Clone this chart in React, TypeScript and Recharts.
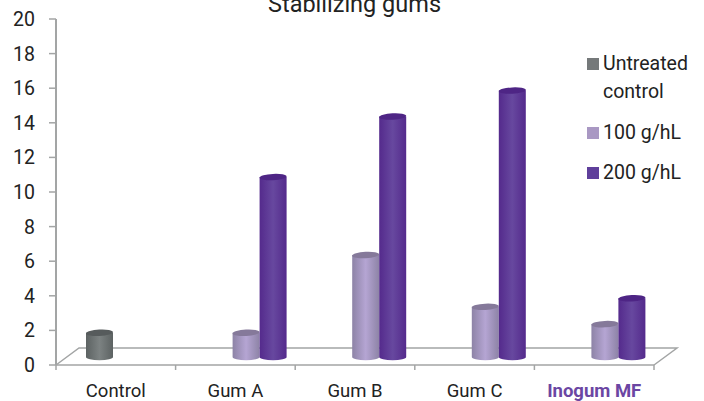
import React from 'react';
import { ComposedChart, Bar, XAxis, YAxis, Legend, Customized, usePlotArea } from 'recharts';

const categories = ['Control', 'Gum A', 'Gum B', 'Gum C', 'Inogum MF'];
const untreated = [1.4, null, null, null, null];
const g100 = [null, 1.4, 5.9, 2.9, 1.9];
const g200 = [null, 10.4, 13.9, 15.4, 3.4];
const yTicks = [0, 2, 4, 6, 8, 10, 12, 14, 16, 18, 20];

const data = categories.map((name, i) => ({
  name,
  untreated: untreated[i],
  g100: g100[i],
  g200: g200[i],
}));

const FONT = 'Roboto, sans-serif';
const AXIS_COLOR = '#a3a5a5';
const TEXT_COLOR = '#222222';

// 3D look: bars sit on the floor, a bit right and up of the axis
const DX = 11;
const DY = -8;
const FLOOR_X = 23;
const FLOOR_Y = 17;

const Floor = () => {
  const area = usePlotArea();
  if (!area) return null;
  const { x, y, width, height } = area;
  const bottom = y + height;
  const right = x + width;
  const step = width / categories.length;
  return (
    <g fill="none" stroke={AXIS_COLOR} strokeWidth={1.5}>
      <path d={`M${x} ${bottom} L${x + FLOOR_X} ${bottom - FLOOR_Y} L${right + FLOOR_X} ${bottom - FLOOR_Y} L${right} ${bottom}`} />
      {[0, 1, 2, 3, 4, 5].map((i) => (
        <line key={i} x1={x + i * step} x2={x + i * step} y1={bottom} y2={bottom + 5} />
      ))}
    </g>
  );
};

const Cylinder = (props: any) => {
  const { x, y, width, height, grad, topColor } = props;
  if (!height || height <= 0) return null;
  const rx = width / 2;
  const ry = 3.2;
  const left = x + DX;
  const top = y + DY;
  const bottom = top + height;
  return (
    <g>
      <path
        d={`M${left} ${top} L${left} ${bottom} A${rx} ${ry} 0 0 0 ${left + width} ${bottom} L${left + width} ${top} Z`}
        fill={`url(#${grad})`}
      />
      <ellipse
        cx={left + rx}
        cy={top}
        rx={rx}
        ry={ry}
        fill={topColor}
        transform={`rotate(-3 ${left + rx} ${top})`}
      />
    </g>
  );
};

const XTick = (props: any) => {
  const { x, y, payload } = props;
  const isOurs = payload.value === 'Inogum MF';
  return (
    <text
      x={x}
      y={y + 24}
      textAnchor="middle"
      fontFamily={FONT}
      fontSize={18.5}
      fontWeight={isOurs ? 700 : 400}
      fill={isOurs ? '#6b46a3' : TEXT_COLOR}
    >
      {payload.value}
    </text>
  );
};

const LegendBox = () => {
  const rows = [
    { lines: ['Untreated', 'control'], color: '#75797a', top: 50 },
    { lines: ['100 g/hL'], color: '#a998c3', top: 119 },
    { lines: ['200 g/hL'], color: '#5f3f9b', top: 159 },
  ];
  return (
    <div style={{ position: 'absolute', left: 587, top: 0, width: 110, height: 190, fontFamily: FONT, fontSize: 19.5, color: TEXT_COLOR }}>
      {rows.map((r) => (
        <div key={r.lines[0]} style={{ position: 'absolute', top: r.top, left: 0, width: 110 }}>
          <span style={{ position: 'absolute', left: 0, top: 8, width: 12, height: 12, background: r.color }} />
          <div style={{ position: 'absolute', left: 16, top: 0, lineHeight: '28px', whiteSpace: 'nowrap' }}>
            {r.lines.map((l) => (
              <div key={l}>{l}</div>
            ))}
          </div>
        </div>
      ))}
    </div>
  );
};

const gradient = (id: string, edge: string, mid: string) => (
  <linearGradient id={id} x1="0" y1="0" x2="1" y2="0">
    <stop offset="0%" stopColor={edge} />
    <stop offset="50%" stopColor={mid} />
    <stop offset="100%" stopColor={edge} />
  </linearGradient>
);

const App = () => {
  return (
    <div style={{ position: 'absolute', left: 0, top: 0, width: 704, height: 401, overflow: 'hidden', background: '#fff' }}>
      <div style={{ position: 'absolute', left: 0, width: 709, top: -12, textAlign: 'center', fontFamily: FONT, fontSize: 23.5, lineHeight: '32px', color: TEXT_COLOR, whiteSpace: 'nowrap' }}>
        Stabilizing gums
      </div>
      <ComposedChart
        width={704}
        height={401}
        data={data}
        barSize={27}
        barGap={0}
        margin={{ top: 19, right: 50, left: 0, bottom: 0 }}
      >
        <defs>
          {gradient('gradGray', '#5c6262', '#7c8282')}
          {gradient('gradLight', '#8d83a6', '#b5a5d3')}
          {gradient('gradDark', '#542a8c', '#67489f')}
        </defs>
        <XAxis
          dataKey="name"
          height={36}
          tickLine={false}
          axisLine={{ stroke: AXIS_COLOR, strokeWidth: 1.5 }}
          tick={<XTick />}
          interval={0}
        />
        <YAxis
          width={56}
          domain={[0, 20]}
          ticks={yTicks}
          interval={0}
          tickSize={7}
          tickMargin={14}
          tickLine={{ stroke: AXIS_COLOR, strokeWidth: 1.5 }}
          axisLine={{ stroke: AXIS_COLOR, strokeWidth: 2 }}
          tick={{ fontFamily: FONT, fontSize: 19.5, fill: TEXT_COLOR }}
        />
        <Customized component={<Floor />} />
        <Legend layout="vertical" align="center" verticalAlign="middle" wrapperStyle={{ left: 0, top: 0, width: 704, height: 0 }} content={<LegendBox />} />
        <Bar dataKey="untreated" name="Untreated control" isAnimationActive={false}
          shape={<Cylinder grad="gradGray" topColor="#565b5c" />} />
        <Bar dataKey="g100" name="100 g/hL" isAnimationActive={false}
          shape={<Cylinder grad="gradLight" topColor="#85799a" />} />
        <Bar dataKey="g200" name="200 g/hL" isAnimationActive={false}
          shape={<Cylinder grad="gradDark" topColor="#4e2585" />} />
      </ComposedChart>
    </div>
  );
};

export default App;
